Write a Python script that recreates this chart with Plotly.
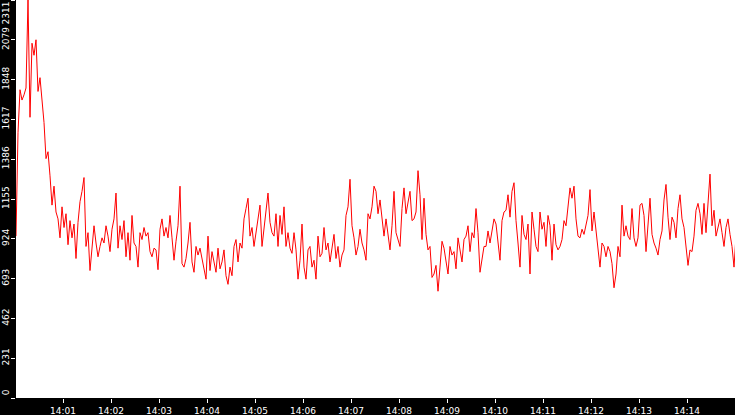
import pandas as pd
import plotly.graph_objects as go

# sampled values (one every 2.5 s from 14:00:01)
seg1 = [940, 1540, 1790, 1730, 1760, 1800, 2311, 1630, 2060, 1990, 2080, 1780, 1860, 1740, 1600,
        1390, 1430, 1290, 1120, 1230, 1080, 1040, 930, 1110, 990, 1070, 890, 1030, 930, 1010,
        810, 1020, 1140, 1200, 1280, 880, 960, 740, 860, 1000, 900, 820, 880, 930, 900,
        1000, 940, 850, 980, 1040, 1190, 870, 1000, 920, 1030, 820, 960, 800, 1060, 900]
seg2 = [880, 760, 960, 920, 990, 940, 960, 850, 820, 870, 860, 745, 980, 1040, 940,
        990, 930, 1060, 930, 800, 910, 1000, 1230, 780, 760, 810, 900, 1020, 790, 730,
        880, 830, 870, 810, 760, 690, 940, 740, 850, 780, 730, 870, 750, 790, 860,
        710, 660, 760, 710, 880, 920, 790, 900, 870, 1040, 1100, 1160, 940, 990, 880]
seg3 = [960, 1020, 1120, 880, 990, 1060, 1190, 1020, 960, 940, 1070, 880, 1060, 950, 1110,
        880, 960, 870, 840, 960, 860, 690, 800, 1010, 760, 690, 860, 880, 760, 800,
        690, 940, 820, 840, 990, 860, 900, 790, 860, 950, 810, 880, 760, 830, 860,
        1060, 1110, 1270, 1000, 930, 830, 880, 980, 900, 860, 800, 1070, 1040, 1110, 1230]
seg4 = [1200, 1070, 1150, 1050, 940, 1040, 930, 860, 1000, 1200, 960, 920, 880, 1100, 1220,
        1070, 1140, 1200, 1030, 1040, 1080, 1320, 1180, 920, 1160, 950, 860, 880, 700, 720,
        770, 620, 760, 910, 870, 800, 720, 880, 830, 850, 750, 930, 870, 790, 920,
        940, 1000, 850, 960, 930, 1100, 960, 730, 820, 880, 880, 970, 900, 970, 1040]
seg5 = [1010, 920, 800, 1030, 1080, 1090, 1180, 1050, 1200, 1250, 1030, 900, 760, 1060, 950,
        920, 1010, 720, 1080, 980, 880, 850, 1080, 980, 1020, 880, 1060, 1000, 800, 1010,
        890, 860, 880, 920, 1030, 1000, 1120, 1220, 1160, 1230, 1040, 940, 930, 980, 950,
        1010, 1060, 1210, 970, 1080, 960, 850, 760, 900, 880, 820, 880, 850, 780, 640]
seg6 = [720, 880, 820, 1120, 940, 1000, 940, 920, 1100, 930, 880, 930, 1120, 1130, 1060,
        850, 1040, 1160, 950, 900, 870, 830, 920, 970, 1150, 1240, 1050, 920, 1050, 1020,
        930, 1100, 1180, 1040, 990, 880, 770, 860, 850, 940, 1090, 1130, 1070, 950, 1130,
        960, 1120, 1300, 1000, 1090, 940, 1000, 1040, 960, 880, 990, 1040, 950, 880, 760, 940]

values = seg1 + seg2 + seg3 + seg4 + seg5 + seg6
times = pd.date_range("2024-01-01 14:00:01.250", periods=len(values), freq="2500ms")

y_ticks = [0, 231.1, 462.2, 693.3, 924.4, 1155.5, 1386.6, 1617.7, 1848.8, 2079.9, 2310.9]
y_labels = ["0", "231", "462", "693", "924", "1155", "1386", "1617", "1848", "2079", "2311"]
x_start = "2024-01-01 14:00:01.250"
x_end = "2024-01-01 14:15:00"

NB = "\u00a0"
# keep the end labels inside the strip (as in the reference)
y_text = list(y_labels)
y_text[0] = NB * 3 + y_text[0]
y_text[-1] = y_text[-1] + NB * 10

fig = go.Figure(go.Scatter(x=times, y=values, mode="lines",
                           line=dict(color="#ff0000", width=1)))

fig.update_layout(
    width=735, height=415,
    margin=dict(l=16, r=0, t=0, b=17, pad=0),
    paper_bgcolor="#000000", plot_bgcolor="#ffffff",
    showlegend=False,
    font=dict(family="DejaVu Sans", size=10, color="#ffffff"),
)
fig.update_xaxes(range=[x_start, x_end], showgrid=False, zeroline=False,
                 ticks="outside", ticklen=4, tickcolor="#ffffff", tickwidth=1,
                 dtick=60000, tickformat="%H:%M", automargin=False,
                 showline=False, tickfont=dict(size=9, color="#ffffff"))
fig.update_yaxes(range=[0, 2311], showgrid=False, zeroline=False,
                 tickvals=y_ticks, ticktext=y_text, tickangle=-90,
                 ticks="outside", ticklen=4, tickcolor="#ffffff", tickwidth=1,
                 ticklabelstandoff=-2, ticklabeloverflow="allow",
                 automargin=False, showline=False,
                 tickfont=dict(size=9, color="#ffffff"))

fig.write_html("out.html", config={"displayModeBar": False},
               post_script="document.body.style.margin='0px';document.body.style.overflow='hidden';")
